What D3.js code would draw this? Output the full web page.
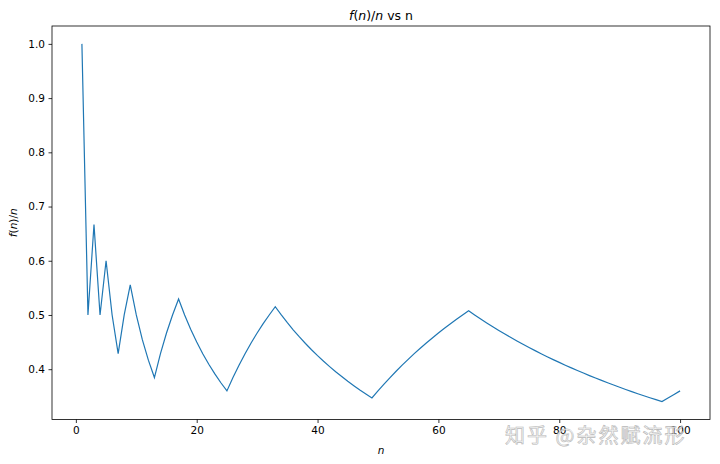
<!DOCTYPE html>
<html><head><meta charset="utf-8">
<script src="https://cdn.jsdelivr.net/npm/d3@7"></script>
<style>body{margin:0;background:#fff}svg{display:block}</style>
</head><body>
<svg id="c" width="720" height="464"></svg>
<script>
const nValues = d3.range(1, 101);
const ratioValues = [
1.0,0.5,0.6667,0.5,0.6,0.5,0.4286,0.5,0.5556,0.5,
0.4545,0.4167,0.3846,0.4286,0.4667,0.5,0.5294,0.5,0.4737,0.45,
0.4286,0.4091,0.3913,0.375,0.36,0.3846,0.4074,0.4286,0.4483,0.4667,
0.4839,0.5,0.5152,0.5,0.4857,0.4722,0.4595,0.4474,0.4359,0.425,
0.4146,0.4048,0.3953,0.3864,0.3778,0.3696,0.3617,0.3542,0.3469,0.36,
0.3725,0.3846,0.3962,0.4074,0.4182,0.4286,0.4386,0.4483,0.4576,0.4667,
0.4754,0.4839,0.4921,0.5,0.5077,0.5,0.4925,0.4853,0.4783,0.4714,
0.4648,0.4583,0.4521,0.4459,0.44,0.4342,0.4286,0.4231,0.4177,0.4125,
0.4074,0.4024,0.3976,0.3929,0.3882,0.3837,0.3793,0.375,0.3708,0.3667,
0.3626,0.3587,0.3548,0.3511,0.3474,0.3438,0.3402,0.3469,0.3535,0.36];
const xTicks = [0,20,40,60,80,100];
const yTicks = [0.4,0.5,0.6,0.7,0.8,0.9,1.0];
const titleText = "vs n";
const watermark = "知乎 @杂然赋流形";

const svg = d3.select("#c");
const L=52, R=710, T=26, B=419.5;
const xmin=d3.min(nValues), xmax=d3.max(nValues);
const ymin=d3.min(ratioValues), ymax=d3.max(ratioValues);
const xm=(xmax-xmin)*0.05, ym=(ymax-ymin)*0.05;
const x=d3.scaleLinear().domain([xmin-xm,xmax+xm]).range([L,R]);
const y=d3.scaleLinear().domain([ymin-ym,ymax+ym]).range([B,T]);
const font="DejaVu Sans, sans-serif";

const gx=svg.append("g").attr("transform",`translate(0,${B})`)
  .call(d3.axisBottom(x).tickValues(xTicks).tickFormat(d3.format("d")).tickSizeOuter(0).tickSize(3.5).tickPadding(3.5));
const gy=svg.append("g").attr("transform",`translate(${L},0)`)
  .call(d3.axisLeft(y).tickValues(yTicks).tickFormat(d3.format(".1f")).tickSizeOuter(0).tickSize(3.5).tickPadding(3.5));
[gx,gy].forEach(g=>{
  g.select(".domain").remove();
  g.selectAll("text").attr("font-family",font).attr("font-size",10.5).attr("fill","#000");
  g.selectAll("line").attr("stroke","#000").attr("stroke-width",0.8);
});

const line=d3.line().x((d,i)=>x(nValues[i])).y(d=>y(d));
svg.append("path").datum(ratioValues).attr("d",line)
  .attr("fill","none").attr("stroke","#1f77b4").attr("stroke-width",1.2).attr("stroke-linejoin","miter");

svg.append("rect").attr("x",L).attr("y",T).attr("width",R-L).attr("height",B-T)
  .attr("fill","none").attr("stroke","#000").attr("stroke-width",0.8);

// title
const t=svg.append("text").attr("x",(L+R)/2).attr("y",T-6).attr("text-anchor","middle")
  .attr("font-family",font).attr("font-size",12.5).attr("fill","#000");
t.append("tspan").attr("font-style","italic").text("f");
t.append("tspan").text("(");
t.append("tspan").attr("font-style","italic").text("n");
t.append("tspan").text(")/");
t.append("tspan").attr("font-style","italic").text("n");
t.append("tspan").text(" "+titleText);

// x label
svg.append("text").attr("x",(L+R)/2).attr("y",454).attr("text-anchor","middle")
  .attr("font-family",font).attr("font-size",10.5).attr("font-style","italic").text("n");
// y label
const yl=svg.append("text").attr("transform",`translate(17,${(T+B)/2}) rotate(-90)`).attr("text-anchor","middle")
  .attr("font-family",font).attr("font-size",10.5);
yl.append("tspan").attr("font-style","italic").text("f");
yl.append("tspan").text("(");
yl.append("tspan").attr("font-style","italic").text("n");
yl.append("tspan").text(")/");
yl.append("tspan").attr("font-style","italic").text("n");

// watermark
svg.append("text").attr("x",505).attr("y",443).attr("font-family","Noto Sans CJK SC, sans-serif")
  .attr("font-size",20).attr("letter-spacing",2).attr("fill","#f4f4f4").attr("stroke","#a8a8a8").attr("stroke-width",0.6)
  .attr("opacity",0.8).text(watermark);
</script>
</body></html>
